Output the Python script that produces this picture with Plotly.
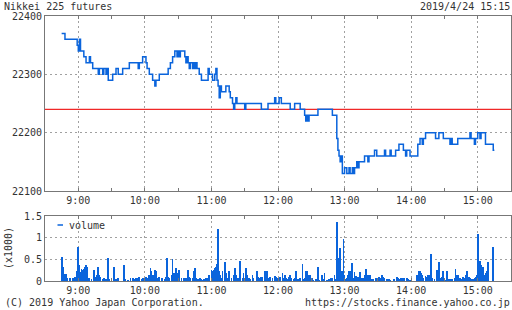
import plotly.graph_objects as go

DAY = "2019-04-24 "

# ---- price (step line, 1-minute) ----
price_times = [
    "08:45", "08:48", "08:59", "09:00", "09:01", "09:02", "09:05", "09:07", "09:10", "09:11",
    "09:13", "09:18", "09:19", "09:22", "09:23", "09:25", "09:26", "09:27", "09:31", "09:34",
    "09:36", "09:40", "09:46", "09:54", "09:55", "09:58", "10:01", "10:02", "10:04", "10:07",
    "10:09", "10:10", "10:13", "10:21", "10:23", "10:25", "10:27", "10:29", "10:30", "10:31",
    "10:32", "10:36", "10:37", "10:38", "10:39", "10:40", "10:41", "10:43", "10:44", "10:45",
    "10:46", "10:47", "10:49", "10:51", "10:57", "10:58", "11:01", "11:03", "11:04", "11:05",
    "11:06", "11:07", "11:08", "11:09", "11:13", "11:16", "11:17", "11:19", "11:20", "11:21",
    "11:22", "11:23", "11:30", "11:31", "11:45", "11:51", "11:57", "11:58", "12:01", "12:03",
    "12:11", "12:15", "12:20", "12:24", "12:25", "12:26", "12:27", "12:28", "12:36", "12:49",
    "12:53", "12:54", "12:55", "12:56", "12:57", "12:58", "13:00", "13:02", "13:04", "13:05",
    "13:07", "13:08", "13:09", "13:11", "13:12", "13:13", "13:18", "13:21", "13:22", "13:27",
    "13:29", "13:36", "13:37", "13:41", "13:42", "13:46", "13:49", "13:53", "13:55", "13:56",
    "13:59", "14:06", "14:08", "14:10", "14:11", "14:13", "14:22", "14:25", "14:29", "14:35",
    "14:36", "14:37", "14:42", "14:53", "14:54", "14:57", "14:58", "15:00", "15:02", "15:03",
    "15:07", "15:14", "15:15",
]
price_values = [
    22370, 22360, 22350, 22340, 22360, 22340, 22330, 22320, 22330, 22320,
    22310, 22300, 22310, 22300, 22310, 22300, 22310, 22290, 22300, 22310,
    22300, 22310, 22320, 22310, 22320, 22330, 22320, 22310, 22300, 22290,
    22280, 22290, 22300, 22310, 22320, 22330, 22340, 22330, 22340, 22330,
    22340, 22330, 22320, 22330, 22320, 22310, 22320, 22310, 22320, 22310,
    22320, 22310, 22300, 22290, 22310, 22300, 22290, 22300, 22310, 22290,
    22280, 22260, 22280, 22270, 22280, 22270, 22260, 22250, 22240, 22250,
    22260, 22250, 22240, 22250, 22240, 22250, 22260, 22250, 22260, 22250,
    22240, 22250, 22240, 22230, 22220, 22230, 22220, 22230, 22240, 22230,
    22190, 22170, 22160, 22150, 22160, 22130, 22140, 22130, 22140, 22130,
    22140, 22130, 22140, 22150, 22140, 22150, 22160, 22150, 22160, 22170,
    22160, 22170, 22160, 22170, 22160, 22170, 22180, 22170, 22160, 22170,
    22160, 22180, 22190, 22180, 22190, 22200, 22190, 22200, 22190, 22180,
    22190, 22180, 22190, 22200, 22190, 22180, 22190, 22200, 22190, 22200,
    22180, 22170, 22170,
]
prev_close = 22240

# ---- volume (x1000, 1-minute) ----
vol_times = [
    "08:45", "08:46", "08:47", "08:48", "08:49", "08:50", "08:52", "08:53", "08:55", "08:57",
    "08:58", "08:59", "09:00", "09:01", "09:02", "09:03", "09:04", "09:05", "09:06", "09:07",
    "09:08", "09:10", "09:12", "09:14", "09:15", "09:16", "09:17", "09:18", "09:19", "09:20",
    "09:22", "09:23", "09:24", "09:25", "09:27", "09:28", "09:30", "09:32", "09:34", "09:36",
    "09:41", "09:42", "09:45", "09:47", "09:49", "09:51", "09:52", "09:54", "09:55", "09:57",
    "09:58", "10:00", "10:01", "10:02", "10:04", "10:05", "10:06", "10:07", "10:08", "10:09",
    "10:10", "10:11", "10:13", "10:15", "10:16", "10:18", "10:19", "10:20", "10:21", "10:22",
    "10:24", "10:25", "10:26", "10:28", "10:29", "10:30", "10:31", "10:33", "10:35", "10:36",
    "10:37", "10:39", "10:40", "10:41", "10:43", "10:44", "10:45", "10:46", "10:48", "10:50",
    "10:51", "10:52", "10:53", "10:55", "10:57", "10:58", "11:00", "11:01", "11:02", "11:03",
    "11:04", "11:05", "11:06", "11:07", "11:08", "11:09", "11:10", "11:12", "11:13", "11:15",
    "11:16", "11:18", "11:20", "11:21", "11:22", "11:24", "11:26", "11:28", "11:29", "11:31",
    "11:32", "11:34", "11:35", "11:37", "11:38", "11:41", "11:42", "11:43", "11:45", "11:46",
    "11:48", "11:50", "11:52", "11:53", "11:55", "11:57", "11:58", "11:59", "12:01", "12:02",
    "12:04", "12:05", "12:06", "12:07", "12:08", "12:10", "12:11", "12:12", "12:14", "12:15",
    "12:16", "12:18", "12:20", "12:22", "12:23", "12:24", "12:25", "12:26", "12:27", "12:28",
    "12:29", "12:31", "12:32", "12:34", "12:35", "12:36", "12:37", "12:40", "12:41", "12:42",
    "12:44", "12:46", "12:48", "12:49", "12:51", "12:52", "12:53", "12:54", "12:55", "12:56",
    "12:57", "12:58", "12:59", "13:00", "13:01", "13:02", "13:03", "13:04", "13:05", "13:06",
    "13:07", "13:08", "13:09", "13:10", "13:11", "13:13", "13:14", "13:16", "13:17", "13:18",
    "13:19", "13:21", "13:22", "13:23", "13:25", "13:26", "13:28", "13:29", "13:31", "13:32",
    "13:34", "13:35", "13:36", "13:38", "13:40", "13:41", "13:44", "13:45", "13:47", "13:48",
    "13:50", "13:51", "13:53", "13:54", "13:56", "13:57", "13:59", "14:00", "14:05", "14:06",
    "14:07", "14:08", "14:09", "14:10", "14:11", "14:13", "14:14", "14:15", "14:16", "14:17",
    "14:18", "14:19", "14:21", "14:23", "14:25", "14:26", "14:28", "14:29", "14:31", "14:32",
    "14:34", "14:35", "14:37", "14:39", "14:40", "14:41", "14:42", "14:43", "14:44", "14:46",
    "14:47", "14:48", "14:49", "14:50", "14:51", "14:52", "14:53", "14:55", "14:56", "14:57",
    "14:58", "14:59", "15:00", "15:01", "15:02", "15:03", "15:04", "15:05", "15:06", "15:07",
    "15:08", "15:09", "15:14",
]
vol_values = [
    0.56, 0.33, 0.08, 0.17, 0.17, 0.07, 0.06, 0.06, 0.07, 0.10,
    0.03, 0.22, 0.79, 0.37, 0.20, 0.28, 0.25, 0.28, 0.33, 0.37,
    0.33, 0.06, 0.03, 0.26, 0.10, 0.10, 0.13, 0.33, 0.15, 0.10,
    0.04, 0.06, 0.04, 0.04, 0.53, 0.04, 0.06, 0.33, 0.04, 0.06,
    0.36, 0.04, 0.02, 0.08, 0.06, 0.05, 0.08, 0.06, 0.10, 0.04,
    0.06, 0.08, 0.10, 0.08, 0.15, 0.29, 0.22, 0.14, 0.10, 0.26,
    0.22, 0.08, 0.10, 0.08, 0.06, 0.04, 0.10, 0.53, 0.10, 0.08,
    0.14, 0.51, 0.18, 0.29, 0.18, 0.06, 0.26, 0.06, 0.06, 0.05,
    0.08, 0.26, 0.10, 0.06, 0.06, 0.22, 0.31, 0.06, 0.04, 0.06,
    0.04, 0.02, 0.05, 0.08, 0.06, 0.14, 0.26, 0.22, 0.26, 0.29,
    0.33, 0.39, 1.19, 0.22, 0.15, 0.08, 0.22, 0.45, 0.18, 0.06,
    0.22, 0.06, 0.15, 0.31, 0.14, 0.06, 0.46, 0.06, 0.18, 0.31,
    0.14, 0.06, 0.04, 0.14, 0.06, 0.23, 0.10, 0.06, 0.10, 0.10,
    0.23, 0.22, 0.08, 0.10, 0.06, 0.12, 0.10, 0.08, 0.08, 0.10,
    0.18, 0.08, 0.14, 0.08, 0.04, 0.10, 0.14, 0.08, 0.05, 0.06,
    0.22, 0.04, 0.08, 0.40, 0.04, 0.06, 0.22, 0.24, 0.14, 0.08,
    0.15, 0.06, 0.02, 0.04, 0.05, 0.33, 0.02, 0.15, 0.05, 0.18,
    0.02, 0.04, 0.06, 0.08, 0.15, 0.05, 1.36, 0.52, 0.52, 0.76,
    0.08, 0.22, 0.97, 0.15, 0.05, 0.06, 0.15, 0.22, 0.22, 0.12,
    0.41, 0.06, 0.20, 0.12, 0.10, 0.09, 0.20, 0.06, 0.08, 0.15,
    0.27, 0.15, 0.08, 0.15, 0.05, 0.04, 0.08, 0.05, 0.10, 0.06,
    0.14, 0.10, 0.06, 0.05, 0.04, 0.02, 0.05, 0.05, 0.10, 0.08,
    0.04, 0.06, 0.08, 0.06, 0.06, 0.04, 0.02, 0.02, 0.14, 0.15,
    0.22, 0.24, 0.18, 0.14, 0.08, 0.12, 0.09, 0.14, 0.15, 0.09,
    0.62, 0.06, 0.05, 0.26, 0.43, 0.08, 0.10, 0.22, 0.02, 0.22,
    0.05, 0.04, 0.05, 0.06, 0.28, 0.14, 0.15, 0.08, 0.08, 0.04,
    0.10, 0.08, 0.15, 0.22, 0.10, 0.10, 0.08, 0.04, 0.05, 0.06,
    0.10, 0.14, 1.09, 0.23, 0.46, 0.37, 0.22, 0.33, 0.15, 0.18,
    0.22, 0.45, 0.78,
]
vol_ticks = [0, 0.5, 1, 1.5]
vol_ticktext = ["0", "0.5", "1", "1.5"]

# ---- styling ----
W, H = 512, 310
ML, MR, MT, MB = 45, 1, 16, 29
PW, PH = W - ML - MR, H - MT - MB
BLUE = "#0a64dc"
RED = "#f02828"
AXIS = "#777777"
GRID = "#a0a0a0"
TXT = "#333333"
FONT = "DejaVu Sans Mono"


def px(xp):
    return (xp - ML) / PW


def py(yp):
    return (H - MB - yp) / PH


vol_top = 216
price_bottom = 191
vol_domain = [0, py(vol_top)]
price_domain = [py(price_bottom), 1]

fig = go.Figure()
fig.add_trace(go.Scatter(
    x=[DAY + t for t in price_times], y=price_values, mode="lines",
    line=dict(color=BLUE, width=1.5, shape="hv"), xaxis="x", yaxis="y",
    showlegend=False, hoverinfo="skip"))
fig.add_trace(go.Bar(
    x=[DAY + t for t in vol_times], y=vol_values,
    marker=dict(color=BLUE, line=dict(width=0)), width=42000,
    xaxis="x2", yaxis="y2", showlegend=False, hoverinfo="skip"))

xcommon = dict(
    type="date", range=[DAY + "08:30", DAY + "15:30"],
    tick0=DAY + "09:00", dtick=3600000, tickformat="%-H:%M",
    ticks="inside", ticklen=3, tickcolor=AXIS,
    showline=True, linecolor=AXIS, linewidth=1, mirror="ticks",
    showgrid=True, gridcolor=GRID, gridwidth=1, griddash="2px,3px",
    zeroline=False, fixedrange=True,
    minor=dict(tick0=DAY + "08:30", dtick=1800000, ticks="inside",
               ticklen=3, tickcolor=AXIS, showgrid=False),
    tickfont=dict(family=FONT, size=10, color=TXT),
)
ycommon = dict(
    showline=True, linecolor=AXIS, linewidth=1, mirror=True,
    showgrid=True, gridcolor=GRID, gridwidth=1, griddash="2px,3px",
    zeroline=False, ticks="", fixedrange=True,
    tickfont=dict(family=FONT, size=10, color=TXT),
)

fig.update_layout(
    width=W, height=H, autosize=False,
    margin=dict(l=ML, r=MR, t=MT, b=MB, pad=0),
    paper_bgcolor="white", plot_bgcolor="white",
    showlegend=False, bargap=0,
    xaxis=dict(anchor="y", **xcommon),
    xaxis2=dict(anchor="y2", matches="x", **xcommon),
    yaxis=dict(anchor="x", domain=price_domain, range=[22100, 22400],
               dtick=100, tickformat="d", **ycommon),
    yaxis2=dict(anchor="x2", domain=vol_domain, range=[0, 1.5],
                tickvals=vol_ticks, ticktext=vol_ticktext, **ycommon),
    shapes=[
        dict(type="line", xref="x domain", yref="y", x0=0, x1=1, layer="below",
             y0=prev_close, y1=prev_close, line=dict(color=RED, width=1.4)),
        dict(type="line", xref="paper", yref="paper", x0=px(57.5), x1=px(63),
             y0=py(225), y1=py(225), line=dict(color=BLUE, width=1.5)),
    ],
)

tf = dict(family=FONT, size=10, color=TXT)
ann = [
    dict(text="Nikkei 225 futures", x=px(3), y=py(6.5), xanchor="left"),
    dict(text="2019/4/24 15:15", x=px(510.5), y=py(6.5), xanchor="right"),
    dict(text="(C) 2019 Yahoo Japan Corporation.", x=px(4), y=py(302), xanchor="left"),
    dict(text="https://stocks.finance.yahoo.co.jp", x=px(510.5), y=py(302), xanchor="right"),
    dict(text="volume", x=px(67.5), y=py(225), xanchor="left"),
    dict(text="(x1000)", x=px(8), y=py(248), xanchor="center", textangle=-90),
]
for a in ann:
    fig.add_annotation(xref="paper", yref="paper", yanchor="middle", showarrow=False,
                       borderpad=0, font=tf, **a)

fig.write_html("out.html")
